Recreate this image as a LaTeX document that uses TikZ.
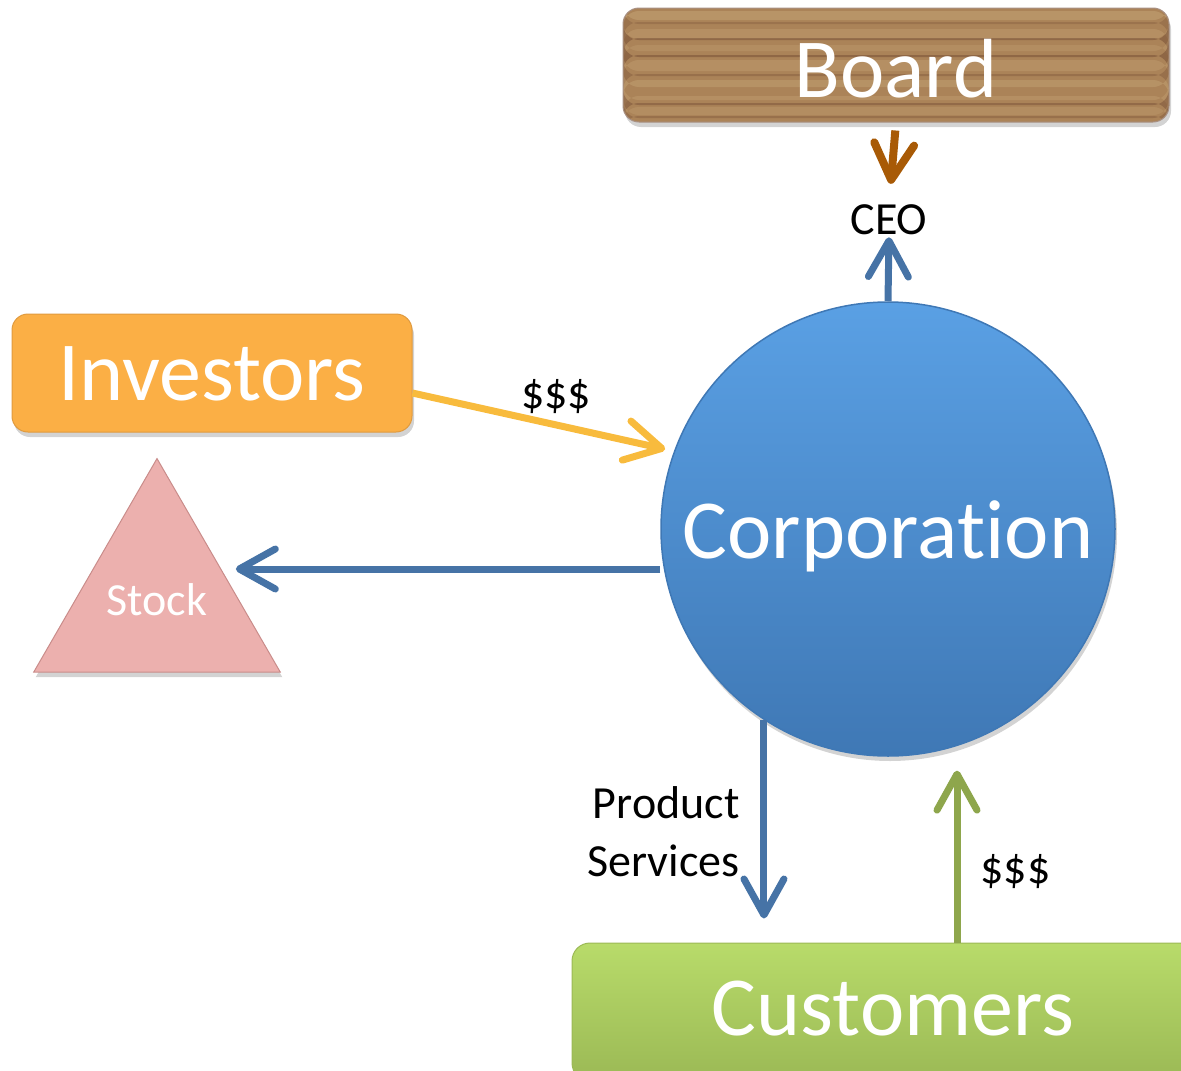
\documentclass[tikz,border=0pt]{standalone}
\usepackage{fontspec}
\setmainfont{Carlito}[Ligatures={NoCommon,NoRequired,NoContextual}, Contextuals=NoAlternate]
\usepackage{xcolor}
\usetikzlibrary{arrows.meta,shapes.geometric,shadows}

\definecolor{woodbase}{HTML}{AB8358}
\definecolor{woodlight}{HTML}{CDAE7E}
\definecolor{wooddark}{HTML}{6E4630}
\definecolor{ceobrown}{HTML}{A85A06}
\definecolor{corpblue}{HTML}{4673A6}
\definecolor{corptop}{HTML}{5AA0E4}
\definecolor{corpbot}{HTML}{3F78B5}
\definecolor{invorange}{HTML}{FBAF45}
\definecolor{invedge}{HTML}{E09A3E}
\definecolor{cashyellow}{HTML}{F8BB3D}
\definecolor{stockpink}{HTML}{ECB0AE}
\definecolor{stockedge}{HTML}{C98C8A}
\definecolor{custtop}{HTML}{B8DB6A}
\definecolor{custbot}{HTML}{9BB955}
\definecolor{cashgreen}{HTML}{8EA64C}

\tikzset{
	bigtext/.style={font=\fontsize{84}{84}\selectfont, text=white, text depth=0pt},
	smalltext/.style={font=\fontsize{46}{58}\selectfont, text=black, inner sep=2pt},
	flow/.style={line width=7pt, -{Straight Barb[length=36pt,width=40pt,round]}},
	softshadow/.style={drop shadow={opacity=0.35, shadow xshift=2pt, shadow yshift=-5pt}},
}

\begin{document}
\begin{tikzpicture}[x=1pt,y=-1pt]
				\useasboundingbox (0,0) rectangle (1181,1071);
				\clip (0,0) rectangle (1181,1071);

				% board, wood grain
				\node[bigtext, softshadow, draw=wooddark!60, line width=1pt, fill=woodbase,
					rounded corners=16pt, minimum width=546pt, minimum height=114pt, text height=64pt,
					path picture={
						\foreach \yy/\hh/\cc/\oo in {3/9/woodlight/0.4, 14/2/wooddark/0.25, 21/10/woodlight/0.3,
							30/2/wooddark/0.45, 37/6/woodlight/0.25, 47/2/wooddark/0.45, 52/11/woodlight/0.3,
							66/2/wooddark/0.3, 72/7/woodlight/0.35, 88/4/woodlight/0.3,
							95/2/wooddark/0.4, 99/8/woodlight/0.25, 108/2/wooddark/0.3}
							\fill[\cc, opacity=\oo] ([yshift=-\yy pt]path picture bounding box.north west)
								rectangle ([yshift={-(\yy+\hh)*1pt}]path picture bounding box.north east);
					}] (board) at (896,65) {Board};
				\node[smalltext, inner sep=0pt] (ceo) at (889,220) {CEO};

				% corporation
				\node[bigtext, circle, softshadow, draw=corpbot, line width=1.5pt, top color=corptop,
					bottom color=corpbot, minimum size=454pt, inner sep=0pt, text height=58pt] (corp) at (888,529) {Corpora\mbox{t}ion};

				% investors and stock
				\node[bigtext, softshadow, draw=invedge, line width=1pt, fill=invorange, rounded corners=16pt,
					minimum width=400pt, minimum height=118pt, text height=54pt] (inv) at (212,373) {Investors};
				\node[regular polygon, regular polygon sides=3, minimum size=277pt, inner sep=0pt, softshadow,
					fill=stockpink, draw=stockedge, line width=1pt, text=white, font=\fontsize{46}{46}\selectfont,
					text height=28pt, text depth=0pt] (stock) at (157,601) {Stock};

				% customers
				\node[bigtext, softshadow, draw=custbot, line width=1pt, top color=custtop, bottom color=custbot,
					rounded corners=18pt, minimum width=642pt, minimum height=138pt, text height=46pt] (cust) at (893,1012) {Customers};
				\coordinate (custin) at ([xshift=64pt]cust.north);

				% flows
				\draw[flow, ceobrown, line width=8pt, shorten <=8pt, shorten >=21pt] (board.south) -- (ceo.north);
				\draw[flow, corpblue, shorten >=2pt] (corp.north) -- (ceo.south);
				\draw[flow, cashyellow, shorten >=9pt] ([yshift=-20pt]inv.east) -- (corp.160)
					node[smalltext, pos=0.55, above=6pt] (invcash) {\$\$\$};
				\draw[flow, corpblue, shorten >=-4pt] ([yshift=-40pt]corp.west) -- ([yshift=-40pt]corp.west -| stock.east);
				\draw[flow, corpblue, shorten >=24pt] (corp.237) -- (corp.237 |- cust.north)
					node[smalltext, midway, left=19pt, align=right] (prodlbl) {Product\\Services};
				\draw[flow, cashgreen, shorten >=25pt] (custin) -- (custin |- corp.288)
					node[smalltext, pos=0.36, right=18pt] (custcash) {\$\$\$};
\end{tikzpicture}
\end{document}
